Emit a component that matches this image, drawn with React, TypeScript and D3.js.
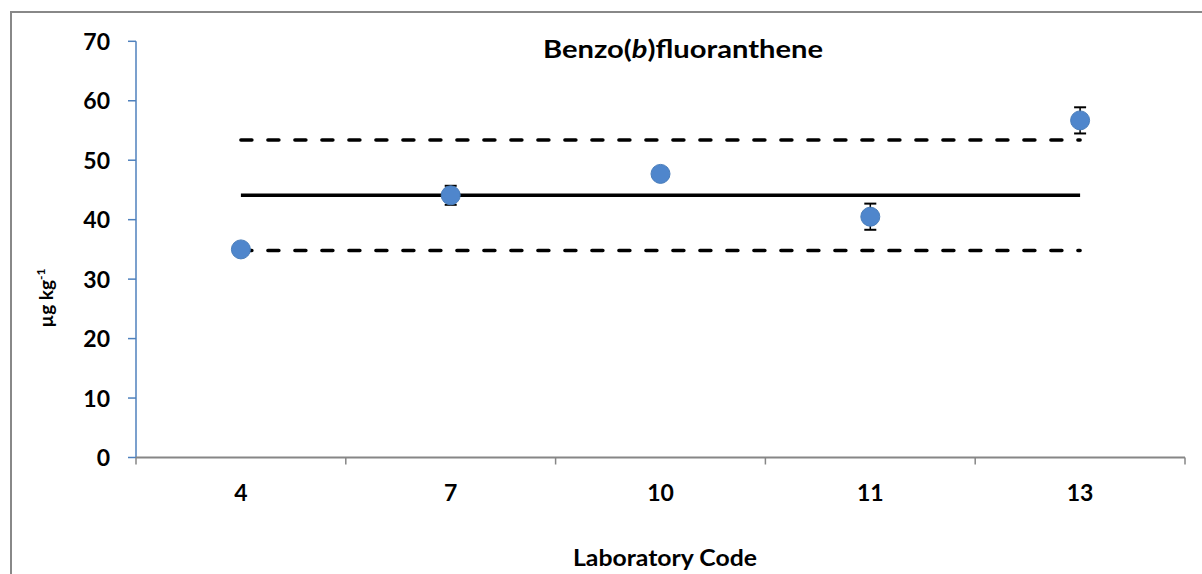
import React from "react";
import * as d3 from "d3";

// Laboratory results for benzo(b)fluoranthene
const labCodes = ["4", "7", "10", "11", "13"];
const labValues = [35.0, 44.1, 47.7, 40.5, 56.7];
const labUncertainty = [0.8, 1.6, 1.0, 2.2, 2.2];

// Assigned value and acceptance limits
const assignedValue = 44.1;
const upperLimit = 53.4;
const lowerLimit = 34.8;

const yTicks = [0, 10, 20, 30, 40, 50, 60, 70];

const W = 1202;
const H = 574;
const FONT = "Lato, 'Open Sans', sans-serif";

export default function App() {
  const left = 136;
  const right = 1185;
  const top = 41.3;
  const bottom = 457.5;

  const x = d3.scaleBand<string>().domain(labCodes).range([left, right]).padding(0);
  const y = d3.scaleLinear().domain([0, 70]).range([bottom, top]);

  const cx = (c: string) => (x(c) as number) + x.bandwidth() / 2;
  const firstX = cx(labCodes[0]);
  const lastX = cx(labCodes[labCodes.length - 1]);

  const hLine = d3.line<[number, number]>();
  const boundaries = [left, ...labCodes.map((c) => (x(c) as number) + x.bandwidth())];

  return (
    <svg width={W} height={H} style={{ display: "block", position: "absolute", left: 0, top: 0 }}>
      <rect x={0} y={0} width={W} height={H} fill="#ffffff" />
      {/* chart frame */}
      <rect x={11} y={12} width={W + 20} height={H + 20} fill="none" stroke="#888888" strokeWidth={2} />

      {/* title */}
      <text
        x={683}
        y={58}
        textAnchor="middle"
        fontFamily={FONT}
        fontWeight="bold"
        fontSize={25}
        fill="#000"
        textLength={280}
        lengthAdjust="spacingAndGlyphs"
      >
        Benzo(<tspan fontStyle="italic">b</tspan>)fluoranthene
      </text>

      {/* y axis */}
      <line x1={left} x2={left} y1={y(70)} y2={y(0)} stroke="#4f81bd" strokeWidth={1.5} />
      {yTicks.map((t) => (
        <g key={t}>
          <line x1={left - 8} x2={left} y1={y(t)} y2={y(t)} stroke="#4f81bd" strokeWidth={1.5} />
          <text x={110} y={y(t) + 8.5} textAnchor="end" fontFamily={FONT} fontWeight="bold" fontSize={23} fill="#000">
            {t}
          </text>
        </g>
      ))}

      {/* x axis */}
      <line x1={left} x2={right} y1={bottom} y2={bottom} stroke="#868686" strokeWidth={2} />
      {boundaries.map((b, i) => (
        <line key={i} x1={b} x2={b} y1={bottom} y2={bottom + 7} stroke="#868686" strokeWidth={1.5} />
      ))}
      {labCodes.map((c) => (
        <text key={c} x={cx(c)} y={501} textAnchor="middle" fontFamily={FONT} fontWeight="bold" fontSize={23} fill="#000">
          {c}
        </text>
      ))}

      {/* axis titles */}
      <text
        transform={`translate(53, 298) rotate(-90)`}
        textAnchor="middle"
        fontFamily={FONT}
        fontWeight="bold"
        fontSize={19}
        fill="#000"
      >
        µg kg<tspan dy={-8} fontSize={12}>-1</tspan>
      </text>
      <text
        x={665}
        y={566}
        textAnchor="middle"
        fontFamily={FONT}
        fontWeight="bold"
        fontSize={23}
        fill="#000"
        textLength={184}
        lengthAdjust="spacingAndGlyphs"
      >
        Laboratory Code
      </text>

      {/* assigned value and limits */}
      <path
        d={hLine([[firstX, y(assignedValue)], [lastX, y(assignedValue)]]) as string}
        stroke="#000"
        strokeWidth={3.5}
        fill="none"
      />
      {[upperLimit, lowerLimit].map((v) => (
        <path
          key={v}
          d={hLine([[firstX, y(v)], [lastX, y(v)]]) as string}
          stroke="#000"
          strokeWidth={3.5}
          strokeDasharray="11,16"
          strokeLinecap="round"
          fill="none"
        />
      ))}

      {/* laboratory results with uncertainty */}
      {labCodes.map((c, i) => {
        const px = cx(c);
        const hi = y(labValues[i] + labUncertainty[i]);
        const lo = y(labValues[i] - labUncertainty[i]);
        return (
          <g key={c}>
            <line x1={px} x2={px} y1={hi} y2={lo} stroke="#000" strokeWidth={1.5} />
            <line x1={px - 6} x2={px + 6} y1={hi} y2={hi} stroke="#000" strokeWidth={2} />
            <line x1={px - 6} x2={px + 6} y1={lo} y2={lo} stroke="#000" strokeWidth={2} />
            <circle cx={px} cy={y(labValues[i])} r={9.5} fill="#4f86cc" stroke="#4a7ebb" strokeWidth={1} />
          </g>
        );
      })}
    </svg>
  );
}
